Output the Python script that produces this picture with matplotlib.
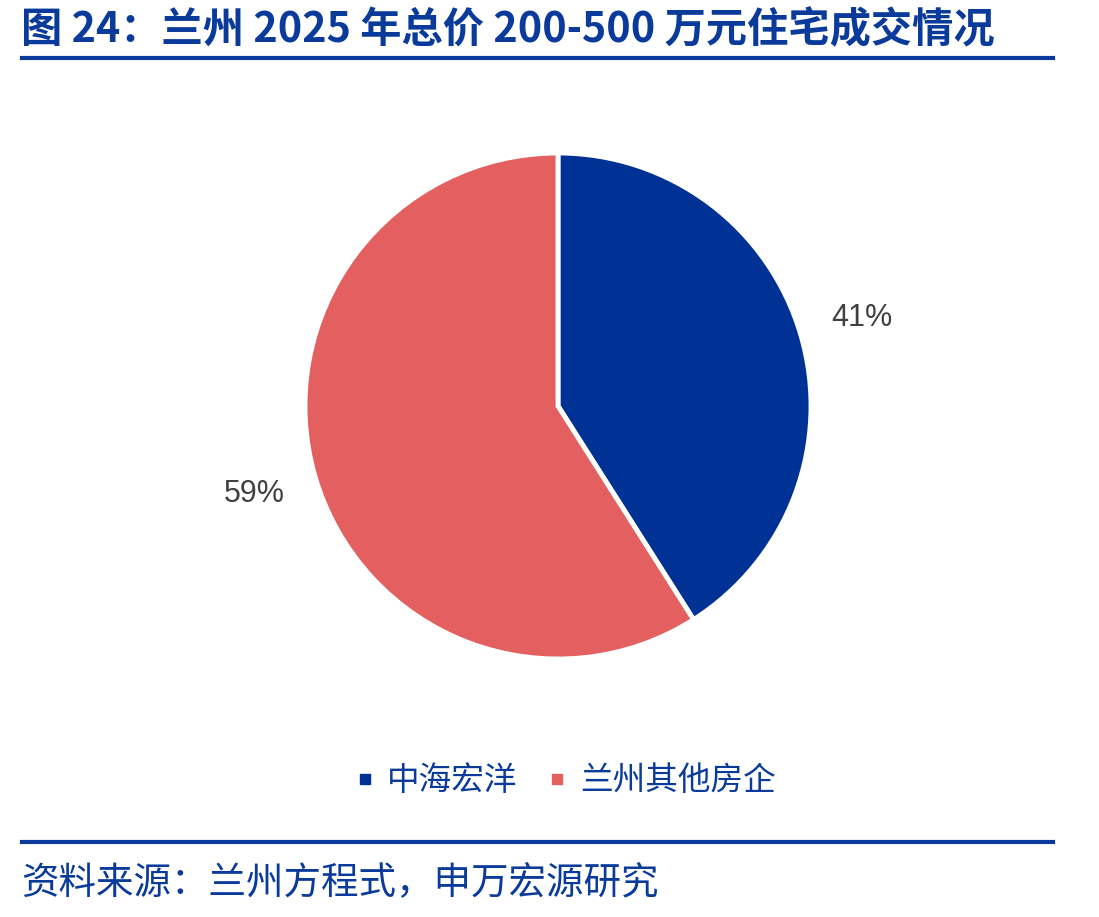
import matplotlib
matplotlib.use("Agg")
import matplotlib.pyplot as plt
from matplotlib.lines import Line2D

plt.rcParams['font.family'] = ['Noto Sans CJK SC', 'DejaVu Sans']

categories = ['中海宏洋', '兰州其他房企']
values = [41, 59]
colors = ['#003296', '#E45F5F']
title = '图 24：兰州 2025 年总价 200-500 万元住宅成交情况'
source = '资料来源：兰州方程式，申万宏源研究'
blue = '#0A3A9A'

W, H = 1099, 917
fig = plt.figure(figsize=(W / 100, H / 100), dpi=100)

cx, cy, r = 558, 406, 253
ax = fig.add_axes([(cx - r) / W, (H - cy - r) / H, 2 * r / W, 2 * r / H])
wedges, texts, autotexts = ax.pie(
    values, colors=colors, startangle=90, counterclock=False,
    autopct=lambda p: f'{p:.0f}%', pctdistance=1.25, radius=1,
    wedgeprops=dict(edgecolor='white', linewidth=3.5),
    textprops=dict(fontsize=22, color='#404040', family=['Liberation Sans', 'DejaVu Sans']))
ax.set_xlim(-1.0, 1.0)
ax.set_ylim(-1.0, 1.0)
ax.set_aspect('equal')
ax.axis('off')

# title
fig.text(21 / W, 1 - 30 / H, title, fontsize=29.7, fontweight='bold', color=blue,
         va='center', ha='left')
fig.add_artist(Line2D([22 / W, 1053 / W], [1 - 58 / H, 1 - 58 / H], color=blue, lw=3))

# legend
handles = [Line2D([], [], marker='s', linestyle='none', markersize=7,
                  markerfacecolor=c, markeredgecolor=c) for c in colors]
leg = fig.legend(handles, categories, loc='center', bbox_to_anchor=(566 / W, 1 - 781 / H),
                 ncol=2, frameon=False, fontsize=23.5, handlelength=0.5, handletextpad=0.45,
                 columnspacing=0.95)
for t in leg.get_texts():
    t.set_color(blue)

# bottom line and source
fig.add_artist(Line2D([22 / W, 1053 / W], [1 - 842 / H, 1 - 842 / H], color=blue, lw=3))
fig.text(21 / W, 1 - 884 / H, source, fontsize=27, color=blue, va='center', ha='left')

fig.savefig('out.png', dpi=100)
